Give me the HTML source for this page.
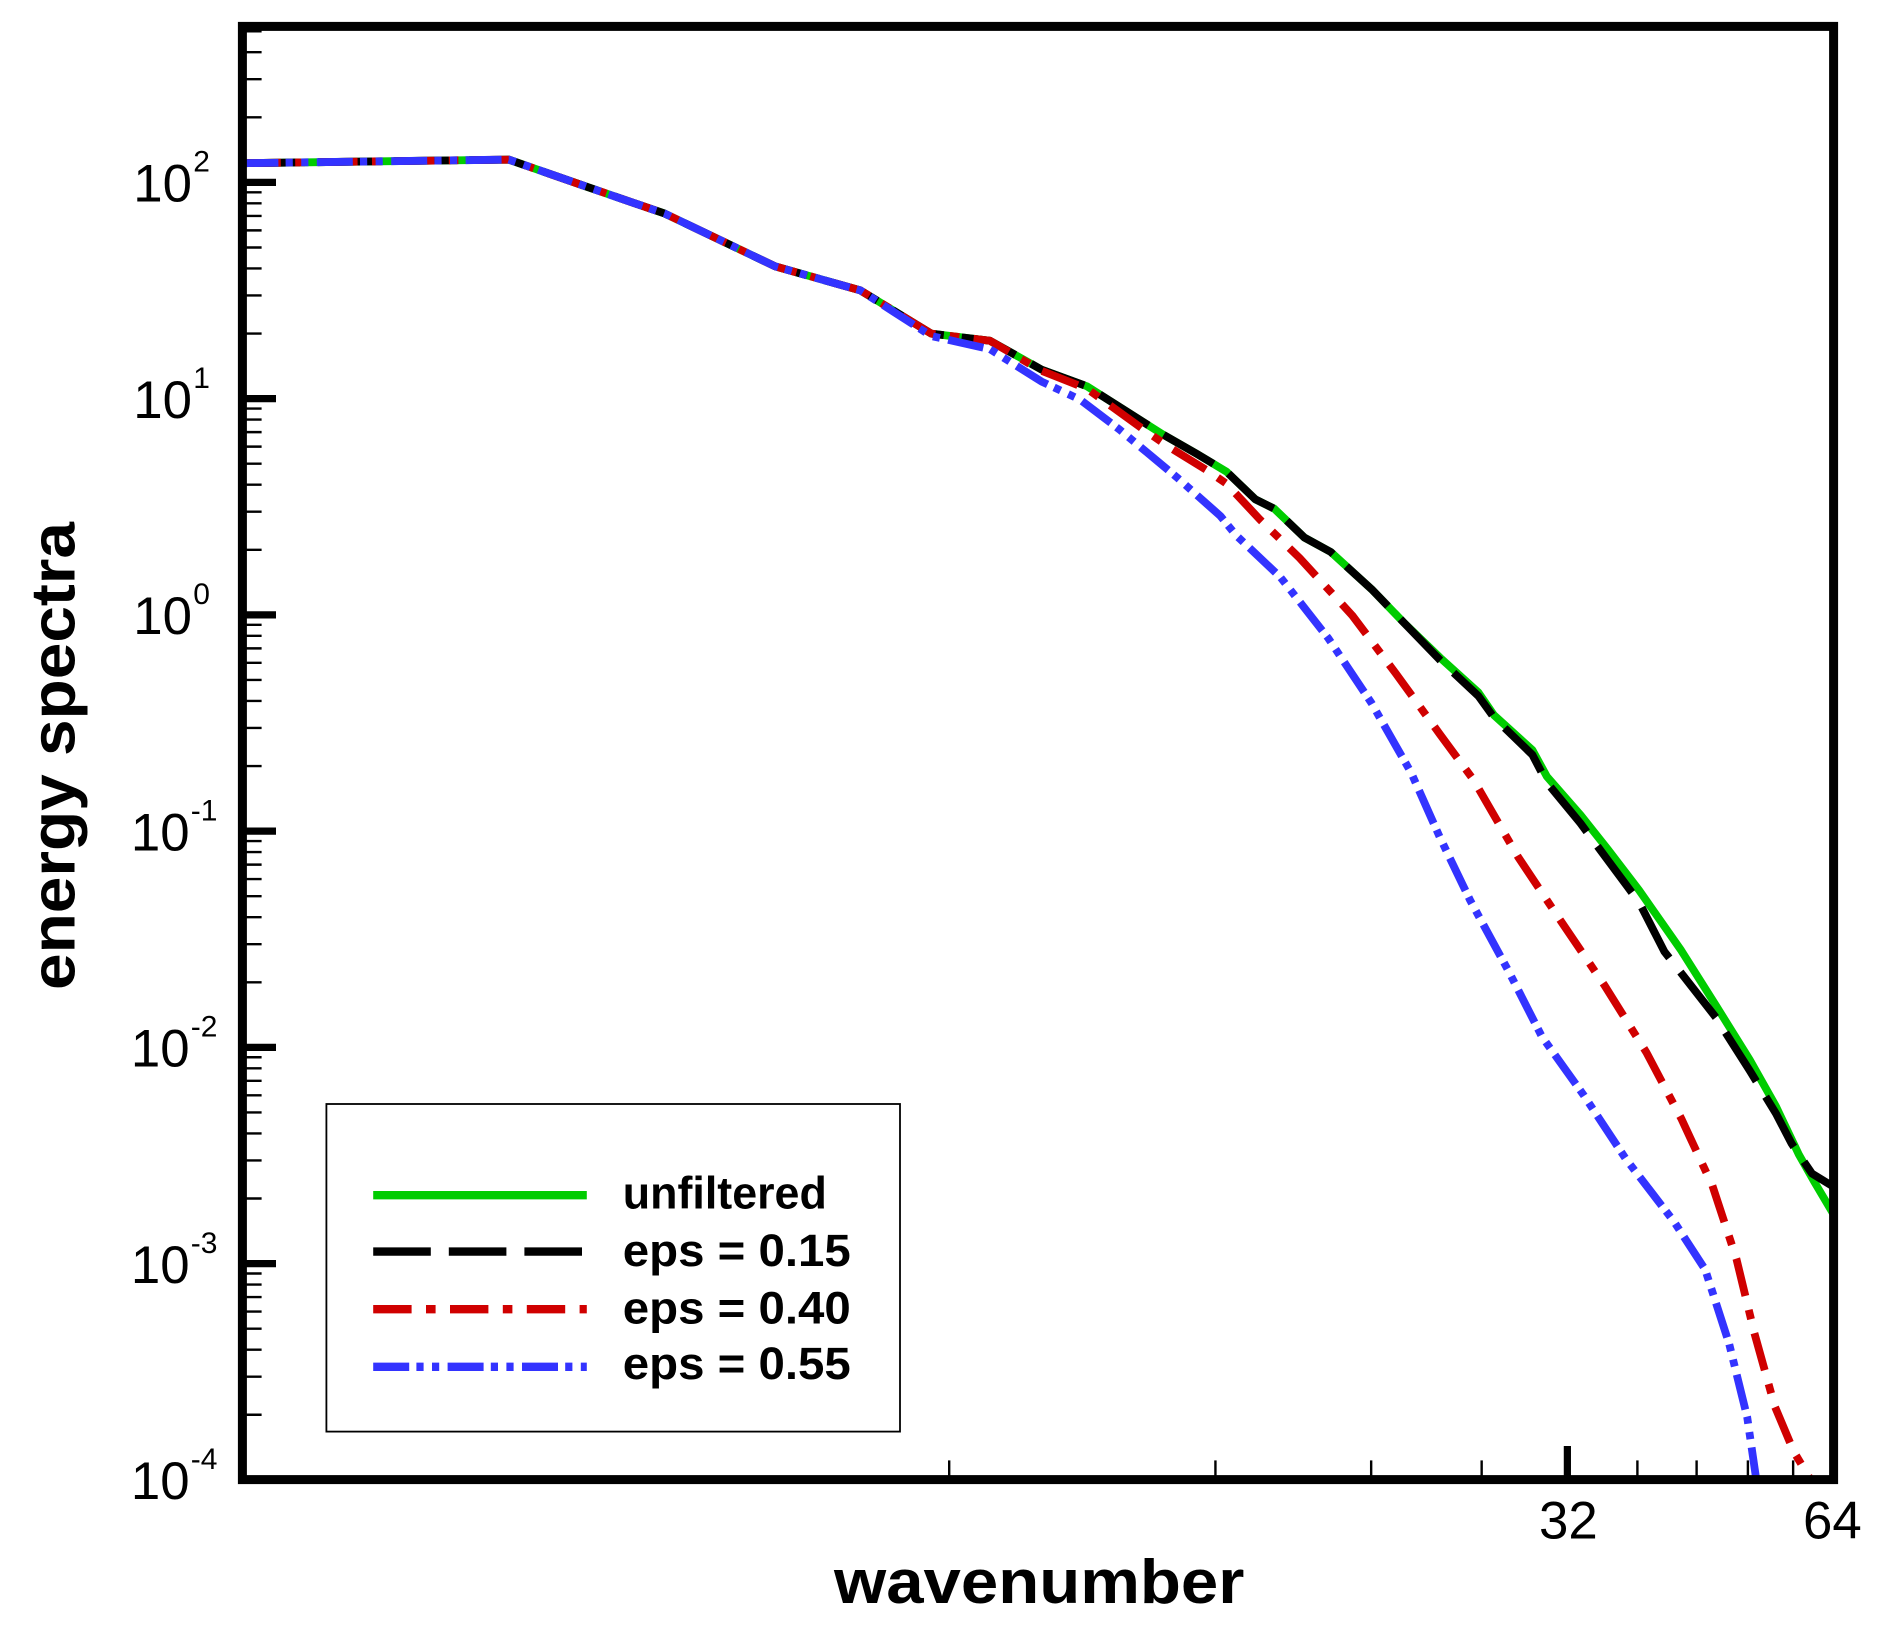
<!DOCTYPE html>
<html><head><meta charset="utf-8"><style>
html,body{margin:0;padding:0;background:#fff;}
svg{display:block;}
text{font-family:"Liberation Sans",sans-serif;}
</style></head><body>
<svg id="s" width="1880" height="1630" viewBox="0 0 1566.667 1358.333" xmlns="http://www.w3.org/2000/svg">
<g id="ticks"></g>
<g fill="none" stroke-linejoin="round" stroke-width="6.5">
<polyline id="g" stroke="#00cc00" points="202,136 424,133 490,156 554,178 600,200 646,222 717,242 776,278 825,284 868,308 906,322 939,343 969,362 997,378 1022,393 1046,416 1062,424 1087,448 1109,460 1143,491 1170,519 1200,548 1232,577 1245,596 1277,625 1289,647 1317,679 1340,708 1366,742 1401,792 1430,838 1458,883 1480,922 1499,962 1512,985 1528,1012"/>
<polyline stroke="#000" stroke-dasharray="48,15" points="202,136 424,133 490,156 554,178 600,200 646,222 717,242 776,278 825,284 868,308 906,322 939,343 969,362 997,378 1022,393 1046,416 1062,424 1087,448 1109,460 1143,491 1170,519 1200,550 1232,580 1245,598 1277,629 1289,652 1317,686 1340,717 1366,752 1387,793 1430,848 1458,892 1480,928 1493,953 1510,978 1528,989"/>
<polyline stroke="#d00000" stroke-dasharray="32,12,8,12" points="202,136 424,133 490,156 554,178 600,200 646,222 717,242 776,278 825,284 868,309 906,324 953,358 975,373 1006,392 1022,403 1050,433 1083,465 1127,513 1163,561 1200,612 1228,650 1265,714 1301,768 1337,821 1372,877 1401,932 1427,988 1447,1049 1462,1111 1479,1172 1495,1210 1510,1235"/>
<polyline stroke="#3333ff" stroke-dasharray="30,6,6,7,6,7" points="202,136 424,133 490,156 554,178 600,200 646,222 717,242 776,280 825,291 868,318 900,333 933,358 981,398 1017,430 1030,446 1067,481 1107,532 1143,586 1176,644 1200,698 1225,750 1257,809 1285,864 1320,913 1355,966 1395,1018 1421,1058 1441,1120 1456,1181 1464,1236"/>
</g>
<rect x="202" y="22" width="1326" height="1211" fill="none" stroke="#000" stroke-width="7.5"/>
<rect x="272" y="920" width="478" height="273" fill="#fff" stroke="#000" stroke-width="1.5"/>
<g stroke-width="7">
<line x1="311" y1="996" x2="489" y2="996" stroke="#00cc00"/>
<line x1="311" y1="1043" x2="489" y2="1043" stroke="#000" stroke-dasharray="48,15"/>
<line x1="311" y1="1091" x2="489" y2="1091" stroke="#d00000" stroke-dasharray="32,12,8,12"/>
<line x1="311" y1="1139" x2="489" y2="1139" stroke="#3333ff" stroke-dasharray="30,6,6,7,6,7"/>
</g>
<g font-weight="bold" font-size="38">
<text x="519" y="1007" textLength="170" lengthAdjust="spacingAndGlyphs">unfiltered</text>
<text x="519" y="1055" textLength="190" lengthAdjust="spacingAndGlyphs">eps = 0.15</text>
<text x="519" y="1103" textLength="190" lengthAdjust="spacingAndGlyphs">eps = 0.40</text>
<text x="519" y="1149" textLength="190" lengthAdjust="spacingAndGlyphs">eps = 0.55</text>
</g>
<g font-size="44" text-anchor="middle">
<text x="1307" y="1282">32</text>
<text x="1527" y="1282">64</text>
</g>
<text x="695" y="1336" font-size="52" font-weight="bold" textLength="342" lengthAdjust="spacingAndGlyphs">wavenumber</text>
<text transform="translate(62,825) rotate(-90)" font-size="52" font-weight="bold" textLength="390" lengthAdjust="spacingAndGlyphs">energy spectra</text>
<g id="ylab"></g>
</svg>
<script>
var ns="http://www.w3.org/2000/svg";
var t=document.getElementById("ticks"),yl=document.getElementById("ylab");
function ln(x1,y1,x2,y2,w){var l=document.createElementNS(ns,"line");l.setAttribute("x1",x1);l.setAttribute("y1",y1);l.setAttribute("x2",x2);l.setAttribute("y2",y2);l.setAttribute("stroke","#000");l.setAttribute("stroke-width",w);t.appendChild(l);}
function Y(lg){return 152-(lg-2)*180.2;}
for(var e=-4;e<=2;e++){
 var y=Y(e); ln(202,y,230,y,6);
 for(var m=2;m<=9;m++){var yy=Y(e+Math.log10(m)); if(yy>24) ln(202,yy,218,yy,2);}
 var tx=document.createElementNS(ns,"text");tx.setAttribute("x",e<0?158:160);tx.setAttribute("y",y+16);tx.setAttribute("font-size","44");tx.setAttribute("text-anchor","end");tx.textContent="10";yl.appendChild(tx);
 var sp=document.createElementNS(ns,"text");sp.setAttribute("x",e<0?159:161);sp.setAttribute("y",y-9);sp.setAttribute("font-size","25");sp.textContent=String(e);yl.appendChild(sp);
}
function X(k){return 1528+737*Math.log10(k/64);}
for(var i=1;i<=9;i++){var x=X(6.4*i); if(i==5) ln(x,1233,x,1205,6); else ln(x,1233,x,1217,2);}
</script>
</body></html>
